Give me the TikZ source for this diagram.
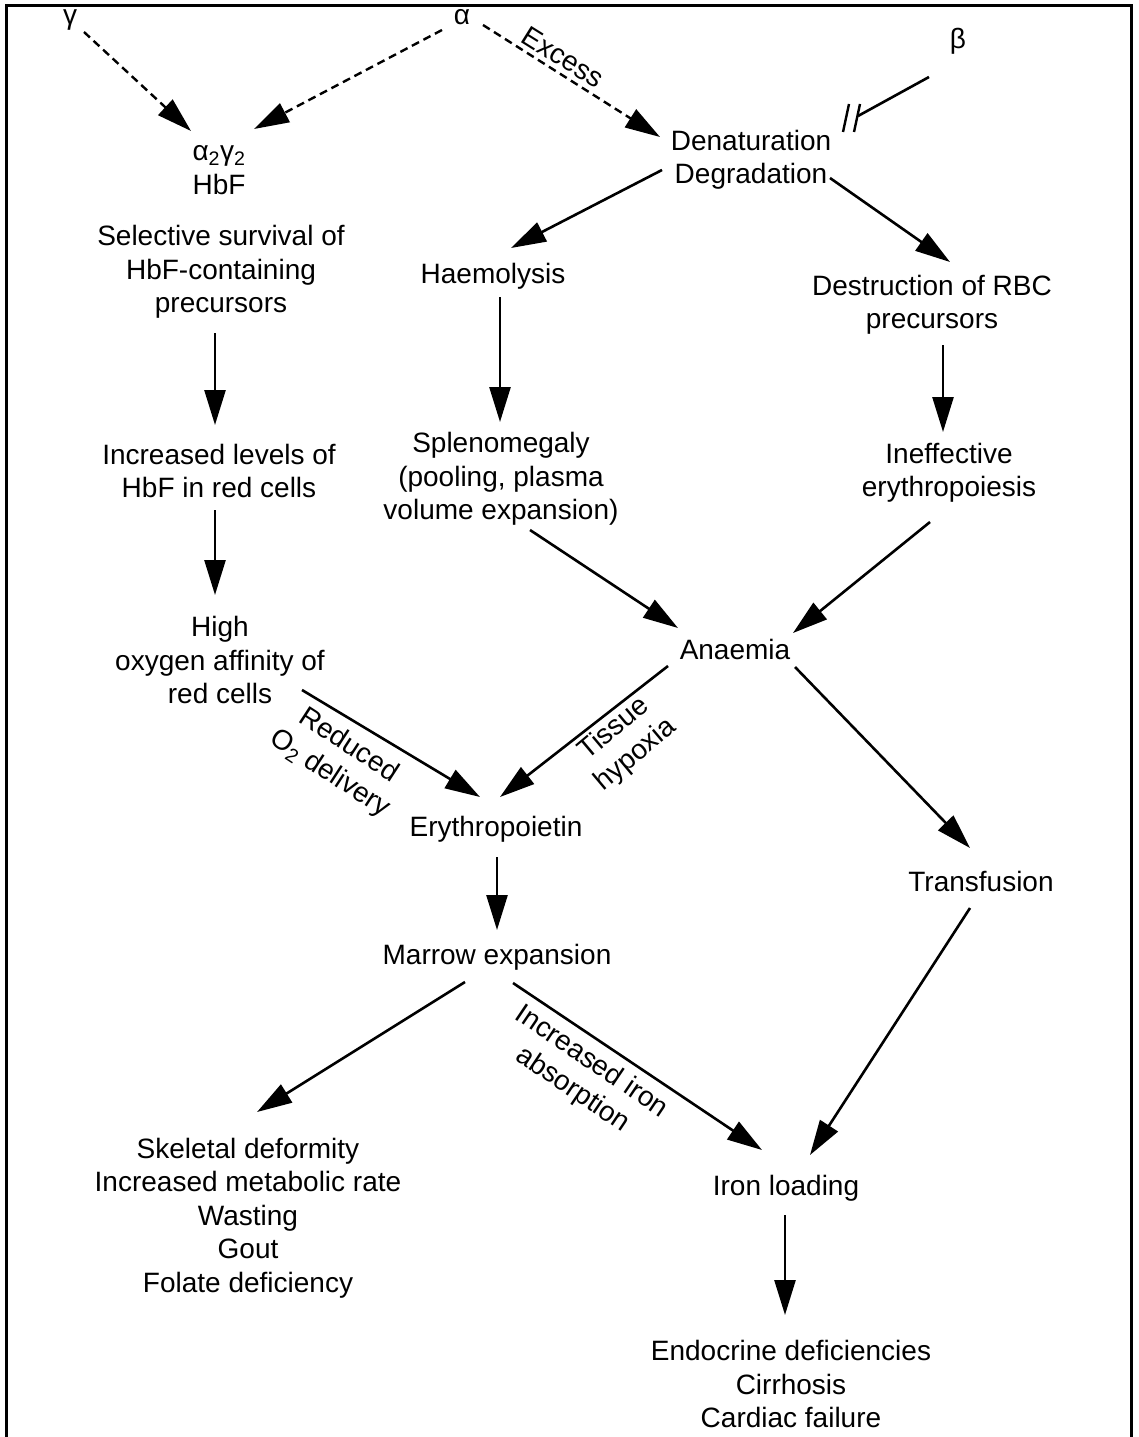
\documentclass[tikz,border=0pt]{standalone}
\usepackage{fontspec}
\setmainfont{Liberation Sans}
\usetikzlibrary{arrows.meta}
\begin{document}
\begin{tikzpicture}[x=1pt,y=-1pt,
  every node/.style={font=\fontsize{28}{33.5}\selectfont, inner sep=0pt, align=center},
  arr/.style={-{Triangle[length=35pt,width=21pt]}, line width=2.6pt},
  darr/.style={arr, line width=2.4pt, dash pattern=on 8pt off 5pt},
  plain/.style={line width=2.6pt}]
\useasboundingbox (0,0) rectangle (1138,1437);
\draw[line width=3pt] (6,1437) -- (6,6) -- (1131,6) -- (1131,1437);

% nodes
\node (gam) at (70,20) {γ};
\node (alp) at (462,17) {α};
\node (bet) at (958,41) {β};
\node (hbf) at (219,170) {α\textsubscript{2}γ\textsubscript{2}\\HbF};
\node (sel) at (221,272) {Selective survival of\\HbF-containing\\precursors};
\node (inc) at (219,471) {Increased levels of\\HbF in red cells};
\node (high) at (220,660) {High\\oxygen affinity of\\red cells};
\node (dd) at (751,160) {Denaturation\\Degradation};
\node (haem) at (493,276) {Haemolysis};
\node (dest) at (932,305) {Destruction of RBC\\precursors};
\node (spl) at (501,479) {Splenomegaly\\(pooling, plasma\\volume expansion)};
\node (ineff) at (949,473) {Ineffective\\erythropoiesis};
\node (anae) at (735,649) {Anaemia};
\node (ery) at (496,829) {Erythropoietin};
\node (trans) at (981,881) {Transfusion};
\node (mar) at (497,957) {Marrow expansion};
\node (skel) at (248,1218) {Skeletal deformity\\Increased metabolic rate\\Wasting\\Gout\\Folate deficiency};
\node (iron) at (786,1188) {Iron loading};
\node (endo) at (791,1384) {Endocrine deficiencies\\Cirrhosis\\Cardiac failure};

% edge labels
\node[rotate=-32] (exc) at (563,57) {Excess};
\node[rotate=-33] (red) at (339,760) {Reduced\\O\textsubscript{2} delivery};
\node[rotate=40] (tis) at (625,742) {Tissue\\hypoxia};
\node[rotate=-34] (iab) at (582,1076) {Increased iron\\absorption};

% connectors
\draw[darr] ([shift={(14,12)}]gam.center) -- ([shift={(-28,-39)}]hbf.center);
\draw[darr] ([shift={(-20,13)}]alp.center) -- ([shift={(35,-41)}]hbf.center);
\draw[darr] ([shift={(21,8)}]alp.center) -- ([shift={(-91,-23)}]dd.center);

\coordinate (blk) at (858,116);
\draw[plain] ([shift={(-29,36)}]bet.center) -- (blk);
\draw[line width=2.4pt] ([shift={(-9,-12)}]blk) -- ([shift={(-15,16)}]blk);
\draw[line width=2.4pt] ([shift={(2,-12)}]blk) -- ([shift={(-4,16)}]blk);

\draw[arr] ([shift={(-89,10)}]dd.center) -- ([shift={(18,-28)}]haem.center);
\draw[arr] ([shift={(79,18)}]dd.center) -- ([shift={(18,-43)}]dest.center);
\draw[arr] ([shift={(-6,61)}]sel.center) -- ([shift={(-4,-46)}]inc.center);
\draw[arr] ([shift={(-4,39)}]inc.center) -- ([shift={(-5,-65)}]high.center);
\draw[arr] ([shift={(7,21)}]haem.center) -- ([shift={(-1,-57)}]spl.center);
\draw[arr] ([shift={(11,40)}]dest.center) -- ([shift={(-6,-41)}]ineff.center);
\draw[arr] ([shift={(29,51)}]spl.center) -- ([shift={(-57,-21)}]anae.center);
\draw[arr] ([shift={(-19,49)}]ineff.center) -- ([shift={(58,-16)}]anae.center);
\draw[arr] ([shift={(82,30)}]high.center) -- ([shift={(-16,-32)}]ery.center);
\draw[arr] ([shift={(-67,17)}]anae.center) -- ([shift={(4,-32)}]ery.center);
\draw[arr] ([shift={(60,18)}]anae.center) -- ([shift={(-11,-33)}]trans.center);
\draw[arr] ([shift={(1,28)}]ery.center) -- ([shift={(0,-27)}]mar.center);
\draw[arr] ([shift={(-32,25)}]mar.center) -- ([shift={(9,-106)}]skel.center);
\draw[arr] ([shift={(16,26)}]mar.center) -- ([shift={(-24,-38)}]iron.center);
\draw[arr] ([shift={(-11,27)}]trans.center) -- ([shift={(24,-33)}]iron.center);
\draw[arr] ([shift={(-1,27)}]iron.center) -- ([shift={(-6,-69)}]endo.center);
\end{tikzpicture}
\end{document}
